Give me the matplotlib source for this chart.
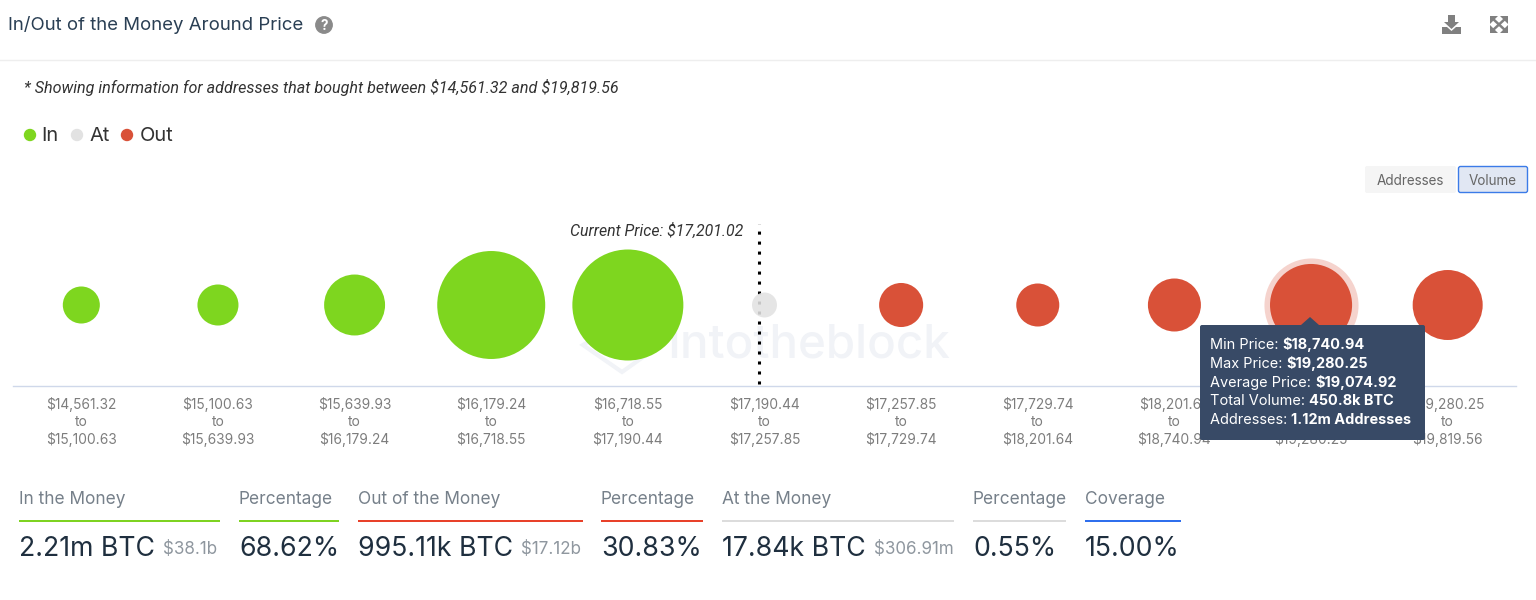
import matplotlib
matplotlib.use("Agg")
import matplotlib.pyplot as plt
from matplotlib.colors import to_rgba
from matplotlib.patches import Circle, FancyBboxPatch, Polygon, Rectangle

plt.rcParams["font.family"] = ["Inter", "DejaVu Sans"]
plt.rcParams["text.parse_math"] = False

W, H = 1536, 600
PX = 0.72  # css px to points at dpi 100

bin_low = ["$14,561.32", "$15,100.63", "$15,639.93", "$16,179.24", "$16,718.55", "$17,190.44",
           "$17,257.85", "$17,729.74", "$18,201.64", "$18,740.94", "$19,280.25"]
bin_high = ["$15,100.63", "$15,639.93", "$16,179.24", "$16,718.55", "$17,190.44", "$17,257.85",
            "$17,729.74", "$18,201.64", "$18,740.94", "$19,280.25", "$19,819.56"]
# volume per bin in thousand BTC
volume_k = [61, 81, 223, 838, 891, 17.84, 98, 92, 158, 450.8, 311]
status = ["in", "in", "in", "in", "in", "at", "out", "out", "out", "out", "out"]
highlighted = 9

colors = {"in": "#7ed61f", "at": "#e2e2e2", "out": "#d95138"}

legend_labels = ["In", "At", "Out"]
stat_titles = ["In the Money", "Percentage", "Out of the Money", "Percentage",
               "At the Money", "Percentage", "Coverage"]
stat_values = ["2.21m BTC", "68.62%", "995.11k BTC", "30.83%", "17.84k BTC", "0.55%", "15.00%"]
stat_usd = ["$38.1b", "", "$17.12b", "", "$306.91m", "", ""]
stat_colors = ["#7ed321", "#7ed321", "#e8412a", "#e8412a", "#dcdcdc", "#dcdcdc", "#2f6fed"]
stat_left = [19, 239, 358, 601, 722, 973, 1085]
stat_right = [220, 339, 583, 703, 954, 1066, 1181]

tooltip_labels = ["Min Price: ", "Max Price: ", "Average Price: ", "Total Volume: ", "Addresses: "]
tooltip_values = ["$18,740.94", "$19,280.25", "$19,074.92", "450.8k BTC", "1.12m Addresses"]


def bubble_diameter(v):
    # sqrt scale fitted on the smallest and the highlighted bubble, in px
    return 25 + (v ** 0.5 - 17.84 ** 0.5) * 3.356


def full_axes(fig, zorder):
    ax = fig.add_axes([0, 0, 1, 1], zorder=zorder)
    ax.set_xlim(0, W)
    ax.set_ylim(H, 0)
    ax.axis("off")
    ax.patch.set_alpha(0)
    return ax


def text_pair(fig, ax, x, y, first, second, kw1, kw2, gap=0):
    t = ax.text(x, y, first, va="center", ha="left", **kw1)
    box = t.get_window_extent(fig.canvas.get_renderer())
    ax.text(box.x1 + gap, y, second, va="center", ha="left", **kw2)


def draw_background(fig):
    ax = full_axes(fig, 0)
    ax.text(667, 346, "Intotheblock", fontsize=47.5 * PX, fontweight="medium", color="#f1f3f7",
            va="center", ha="left")
    ax.add_patch(Polygon([(583, 345), (622, 322), (660, 345), (622, 372)], closed=True,
                         fill=False, edgecolor="#f1f3f7", linewidth=3))
    return ax


def draw_chart(fig):
    ax = fig.add_axes([13 / W, 1 - 386 / H, 1503 / W, 171 / H], zorder=1)
    ax.patch.set_alpha(0)
    ax.set_xlim(-0.5, 10.5)
    ax.set_ylim(-81, 90)

    xs = list(range(len(volume_k)))
    ys = [0] * len(xs)
    sizes = [(bubble_diameter(v) * PX) ** 2 for v in volume_k]
    # the at-the-money bubble lets the dotted line show through
    cols = [to_rgba(colors[s], 0.88 if s == "at" else 1) for s in status]

    halo = (bubble_diameter(volume_k[highlighted]) + 12) * PX
    ax.scatter([highlighted], [0], s=halo ** 2, color=colors["out"], alpha=0.25, linewidths=0, zorder=2)
    ax.vlines(4.963, -79, 81, color="black", linewidth=2.2, linestyles=(0, (1, 2.27)), zorder=2)
    ax.scatter(xs, ys, s=sizes, c=cols, linewidths=0, zorder=3, clip_on=False)

    ax.text(4.963 - 0.12, 74, "Current Price: $17,201.02", fontsize=15.9 * PX, style="italic",
            color="#333333", ha="right", va="center", family="Roboto")

    ax.set_yticks([])
    ax.set_xticks(xs)
    ax.set_xticklabels([f"{a}\nto\n{b}" for a, b in zip(bin_low, bin_high)],
                       fontsize=13.8 * PX, color="#7d7d7d", linespacing=1.24)
    ax.tick_params(axis="x", length=0, pad=8)
    for side in ["top", "left", "right"]:
        ax.spines[side].set_visible(False)
    ax.spines["bottom"].set_color("#cfd8ea")
    ax.spines["bottom"].set_linewidth(1)
    return ax


def draw_icons(ax):
    ax.add_patch(Circle((324, 25), 8.2, color="#8a8a8a"))
    ax.text(324, 25.5, "?", color="white", fontsize=13.5 * PX, fontweight="bold", ha="center", va="center")
    # download
    ax.add_patch(Polygon([(1448, 15), (1455, 15), (1455, 22), (1459, 22), (1451.5, 29), (1444, 22), (1448, 22)],
                         closed=True, color="#808080", linewidth=0))
    ax.add_patch(Polygon([(1442, 27), (1447, 27), (1451.5, 31), (1456, 27), (1461, 27), (1461, 34), (1442, 34)],
                         closed=True, color="#808080", linewidth=0))
    # expand
    for cx, cy, sx, sy in [(1490, 16, 1, 1), (1508, 16, -1, 1), (1490, 33, 1, -1), (1508, 33, -1, -1)]:
        ax.add_patch(Polygon([(cx, cy), (cx + 8 * sx, cy), (cx, cy + 8 * sy)], closed=True, color="#808080", linewidth=0))
    ax.plot([1492, 1506], [18, 31], color="#808080", linewidth=1.8)
    ax.plot([1506, 1492], [18, 31], color="#808080", linewidth=1.8)


def draw_header(fig, ax):
    ax.text(8, 24.5, "In/Out of the Money Around Price", fontsize=18.6 * PX, color="#2a3f54", va="center")
    draw_icons(ax)
    ax.plot([0, W], [59.5, 59.5], color="#eeeeee", linewidth=1)
    ax.text(24, 88, "* Showing information for addresses that bought between $14,561.32 and $19,819.56",
            fontsize=16.12 * PX, style="italic", color="#333333", va="center", family="Roboto")
    for label, key, cx, tx in zip(legend_labels, ["in", "at", "out"], [30, 77, 127], [41, 89, 140]):
        ax.add_patch(Circle((cx, 135), 6.2, color=colors[key], linewidth=0))
        ax.text(tx, 136, label, fontsize=20 * PX, color="#333333", va="center")

    ax.add_patch(FancyBboxPatch((1365, 166), 91, 27, boxstyle="round,pad=0,rounding_size=2",
                                facecolor="#f5f5f5", edgecolor="none"))
    ax.text(1410.5, 181, "Addresses", fontsize=13.5 * PX, color="#666666", ha="center", va="center")
    ax.add_patch(FancyBboxPatch((1458.5, 166.5), 69, 26, boxstyle="round,pad=0,rounding_size=2",
                                facecolor="#e1e7f3", edgecolor="#3b7be8", linewidth=1))
    ax.text(1493, 181, "Volume", fontsize=13.5 * PX, color="#666666", ha="center", va="center")


def draw_tooltip(fig, ax):
    ax.add_patch(FancyBboxPatch((1200, 325), 225, 115, boxstyle="round,pad=0,rounding_size=2",
                                facecolor="#384a66", edgecolor="none"))
    ax.add_patch(Polygon([(1301, 325), (1310, 317), (1319, 325)], closed=True, color="#384a66", linewidth=0))
    for i, (label, value) in enumerate(zip(tooltip_labels, tooltip_values)):
        text_pair(fig, ax, 1210, 345 + i * 18.8, label, value,
                  dict(fontsize=14.5 * PX, color="white"),
                  dict(fontsize=14.5 * PX, color="white", fontweight="bold"))


def draw_stats(fig, ax):
    for i, title in enumerate(stat_titles):
        left, right = stat_left[i], stat_right[i]
        ax.text(left, 500, title, fontsize=17.3 * PX, color="#76808a", va="center")
        ax.add_patch(Rectangle((left, 519.5), right - left, 2, color=stat_colors[i], linewidth=0))
        text_pair(fig, ax, left, 549.5, stat_values[i], stat_usd[i],
                  dict(fontsize=26.7 * PX, color="#1f2f3f"),
                  dict(fontsize=17 * PX, color="#8f979f"), gap=8)


def main() -> None:
    fig = plt.figure(figsize=(W / 100, H / 100), dpi=100, facecolor="white")
    fig.canvas.get_renderer()
    draw_background(fig)
    draw_chart(fig)
    front = full_axes(fig, 2)
    draw_header(fig, front)
    draw_tooltip(fig, front)
    draw_stats(fig, front)
    fig.savefig("out.png", dpi=100, facecolor="white")


if __name__ == "__main__":
    main()
